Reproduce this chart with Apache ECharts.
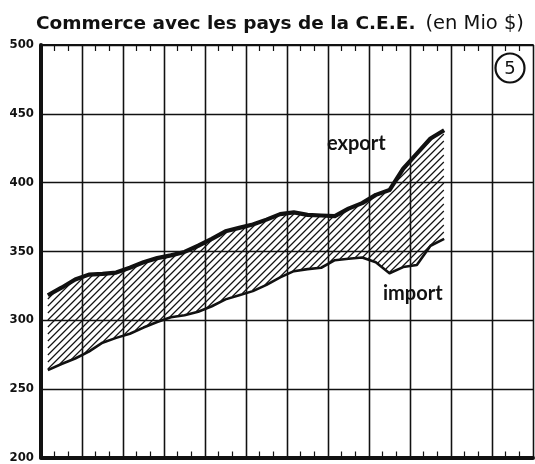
<!DOCTYPE html>
<html>
<head>
<meta charset="utf-8">
<script src="https://cdn.jsdelivr.net/npm/echarts@6/dist/echarts.min.js"></script>
<style>
  html, body { margin: 0; padding: 0; background: #fff; }
  #chart { width: 535px; height: 464px; }
</style>
</head>
<body>
<div id="chart"></div>
<script>
// valeurs mensuelles (en Mio $)
var exportVals = [318, 323.5, 329.5, 333, 333.5, 334.5, 338, 342, 345, 347,
                  349.5, 354, 359, 364.5, 367, 369.5, 373, 377, 378.3, 376.5,
                  376, 375.5, 381, 385, 391, 394.5, 410, 421, 432, 438];
var importVals = [263.5, 268, 272, 277, 283.5, 287, 290, 294.5, 298.5, 302,
                  303.5, 306, 310, 315, 318, 321, 325.5, 331, 335.5, 337,
                  338, 343.5, 344.5, 345.5, 342, 334, 338.5, 340, 354, 359];
var yTicks = [200, 250, 300, 350, 400, 450, 500];

var expData = exportVals.map(function (v, i) { return [i + 0.5, v]; });
var impData = importVals.map(function (v, i) { return [i + 0.5, v]; });

// interpolation lineaire en pixels
function yAt(pts, x) {
  for (var i = 0; i < pts.length - 1; i++) {
    if (x >= pts[i][0] && x <= pts[i + 1][0]) {
      var t = (x - pts[i][0]) / (pts[i + 1][0] - pts[i][0]);
      return pts[i][1] + t * (pts[i + 1][1] - pts[i][1]);
    }
  }
  return null;
}

// hachures entre import et export
function renderHatch(params, api) {
  if (params.dataIndex !== 0) return;
  var top = expData.map(function (d) { return api.coord(d); });
  var bot = impData.map(function (d) { return api.coord(d); });
  var x0 = top[0][0], x1 = top[top.length - 1][0];
  var step = 7, children = [];
  for (var c = x0 + 40; c < x1 + 480; c += step) {
    var start = null, last = null;
    for (var x = x0; x <= x1 + 0.01; x += 0.5) {
      var y = c - x;
      var yt = yAt(top, x), yb = yAt(bot, x);
      var inside = yt !== null && y >= yt + 1 && y <= yb - 0.5;
      if (inside) {
        if (!start) start = [x, y];
        last = [x, y];
      } else if (start) {
        children.push({ type: 'line', shape: { x1: start[0], y1: start[1], x2: last[0], y2: last[1] },
          style: { stroke: '#111', lineWidth: 1.1 } });
        start = null;
      }
    }
    if (start) {
      children.push({ type: 'line', shape: { x1: start[0], y1: start[1], x2: last[0], y2: last[1] },
        style: { stroke: '#111', lineWidth: 1.1 } });
    }
  }
  return { type: 'group', children: children };
}

var chart = echarts.init(document.getElementById('chart'));

var xCommon = {
  type: 'value', min: 0, max: 36, interval: 3,
  axisLabel: { show: false },
  axisTick: { show: true, inside: true, length: 6, lineStyle: { color: '#111' } },
  minorTick: { show: true, splitNumber: 3, length: 6, lineStyle: { color: '#111', width: 1.2 } },
  splitLine: { show: true, lineStyle: { color: '#111', width: 1.3 } }
};

chart.setOption({
  animation: false,
  backgroundColor: '#fff',
  title: {
    text: '{b|Commerce avec les pays de la C.E.E.}  {n|(en Mio $)}',
    left: 31, top: 9,
    textStyle: {
      rich: {
        b: { fontFamily: 'DejaVu Sans', fontWeight: 'bold', fontSize: 18.5, color: '#111' },
        n: { fontFamily: 'DejaVu Sans', fontWeight: 'normal', fontSize: 19.5, color: '#111' }
      }
    }
  },
  grid: { left: 41, right: 2, top: 45, bottom: 3 },
  xAxis: [
    Object.assign({}, xCommon, { position: 'bottom',
      axisLine: { show: true, onZero: false, lineStyle: { color: '#111', width: 4 } } }),
    Object.assign({}, xCommon, { position: 'top',
      axisLine: { show: true, onZero: false, lineStyle: { color: '#111', width: 1.8 } } })
  ],
  yAxis: {
    type: 'value', min: yTicks[0], max: yTicks[yTicks.length - 1], interval: 50,
    axisLine: { show: true, lineStyle: { color: '#111', width: 4 } },
    axisTick: { show: false },
    splitLine: { show: true, lineStyle: { color: '#111', width: 1.3 } },
    axisLabel: {
      margin: 7, color: '#111', fontSize: 13, fontWeight: 'bold',
      fontFamily: 'DejaVu Sans Condensed',
      padding: [0, 0, 8, 0]
    }
  },
  series: [
    {
      name: 'hachures', type: 'custom', renderItem: renderHatch,
      data: [[0, 300]], silent: true, z: 1
    },
    {
      name: 'import', type: 'line', data: impData, z: 3,
      showSymbol: false,
      lineStyle: { color: '#111', width: 2.6, join: 'round' }
    },
    {
      name: 'export', type: 'line', data: expData, z: 3,
      showSymbol: false,
      lineStyle: { color: '#111', width: 4.2, join: 'round' }
    }
  ],
  graphic: [
    { type: 'text', x: 327, y: 144,
      style: { text: 'export', fontFamily: 'Lato', fontWeight: 'bold', fontSize: 20, fill: '#111', verticalAlign: 'middle' } },
    { type: 'text', x: 383, y: 294,
      style: { text: 'import', fontFamily: 'Lato', fontWeight: 'bold', fontSize: 20, fill: '#111', verticalAlign: 'middle' } },
    { type: 'circle', shape: { cx: 510, cy: 68, r: 14.5 },
      style: { fill: '#fff', stroke: '#111', lineWidth: 2.2 } },
    { type: 'text', x: 510, y: 69,
      style: { text: '5', fontFamily: 'DejaVu Sans', fontSize: 18, fill: '#111', align: 'center', verticalAlign: 'middle' } }
  ]
});
</script>
</body>
</html>
